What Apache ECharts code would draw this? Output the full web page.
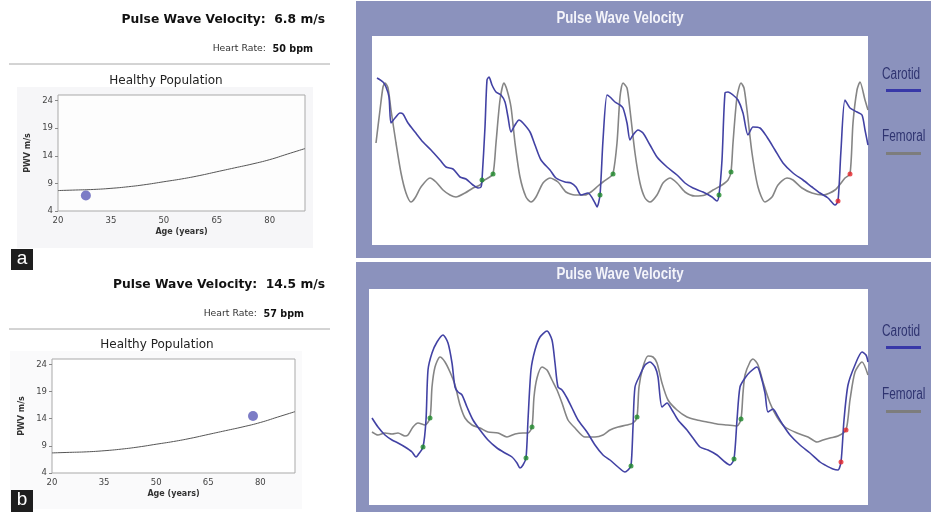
<!DOCTYPE html>
<html>
<head>
<meta charset="utf-8">
<script src="https://cdn.jsdelivr.net/npm/echarts/dist/echarts.min.js"></script>
<style>
  html, body { margin: 0; padding: 0; background: #fff; }
  #chart { width: 931px; height: 512px; }
</style>
</head>
<body>
<div id="chart"></div>
<script>
// healthy population reference curve (age in years, PWV m/s)
const healthyAge = [20, 25, 30, 35, 40, 45, 50, 55, 60, 65, 70, 75, 80, 85, 90];
const healthyPwv = [7.7, 7.8, 7.9, 8.1, 8.4, 8.8, 9.3, 9.8, 10.4, 11.1, 11.8, 12.5, 13.3, 14.3, 15.3];
const ageTicks = [20, 35, 50, 65, 80];
const pwvTicks = [4, 9, 14, 19, 24];

// patients
const patientA = [[27.9, 6.8]];
const patientB = [[77.9, 14.5]];
const pwvA = "6.8", heartRateA = "50";
const pwvB = "14.5", heartRateB = "57";

// panel a waveforms [time, amplitude]
const carotidA = [[5,167],[11,163],[14,158],[17,148],[19,122],[23,127],[28,132],[31,131],[36,122],[43,113],[51,103],[59,95],[68,85],[74,78],[81,76],[88,68],[94,66],[101,60],[106,57],[109,58],[110,65],[113,118],[115,165],[117,168],[120,160],[124,153],[129,150],[133,143],[136,128],[139,113],[143,120],[147,125],[151,122],[158,113],[163,100],[169,85],[178,75],[184,67],[193,63],[199,62],[204,58],[209,50],[216,52],[223,42],[225,38],[228,50],[231,105],[235,150],[238,148],[243,143],[248,140],[251,137],[255,122],[258,105],[261,110],[266,115],[271,112],[278,100],[285,88],[295,78],[305,70],[313,62],[321,57],[331,53],[340,48],[345,44],[347,50],[350,85],[353,152],[356,153],[361,150],[366,145],[371,132],[376,110],[381,118],[388,117],[395,108],[403,95],[411,82],[421,72],[431,65],[440,58],[448,52],[456,47],[463,40],[466,44],[469,95],[473,145],[478,137],[485,133],[490,130],[493,115],[496,100]];
const femoralA = [[4,102],[8,135],[11,158],[13,162],[16,157],[19,135],[24,102],[29,72],[34,52],[39,43],[43,47],[49,58],[58,67],[64,63],[71,55],[78,50],[84,48],[93,52],[101,57],[108,60],[111,64],[116,67],[121,71],[124,102],[128,145],[132,162],[135,155],[139,138],[143,102],[148,68],[154,48],[159,43],[164,48],[171,62],[178,67],[186,63],[194,53],[203,50],[213,50],[219,53],[226,59],[231,63],[238,68],[241,71],[245,102],[248,148],[251,162],[255,157],[258,135],[263,92],[268,62],[273,47],[278,43],[285,50],[291,62],[298,67],[305,62],[313,53],[323,49],[333,50],[341,55],[350,60],[356,65],[359,73],[361,102],[365,148],[369,162],[372,157],[375,135],[380,92],[386,58],[393,43],[400,48],[406,60],[415,67],[421,65],[430,57],[440,52],[451,50],[463,55],[473,67],[478,71],[481,122],[485,155],[488,163],[493,145],[496,135]];
const footA = [[110,65],[121,71],[228,50],[241,71],[347,50],[359,73]];
const footAlast = [[466,44],[478,71]];

// panel b waveforms [time, amplitude]
const carotidB = [[3,87],[9,78],[16,70],[23,65],[29,62],[36,58],[43,53],[47,48],[49,50],[54,58],[57,85],[59,135],[63,152],[68,163],[74,170],[79,162],[83,142],[86,118],[89,113],[93,110],[98,98],[104,85],[111,75],[119,65],[128,57],[136,52],[143,48],[148,42],[151,37],[154,40],[157,47],[159,85],[162,135],[166,155],[171,168],[178,174],[183,165],[186,142],[189,118],[193,115],[198,107],[203,97],[209,85],[218,73],[226,60],[234,50],[241,45],[249,38],[256,33],[259,35],[262,39],[264,78],[266,118],[271,130],[276,140],[281,143],[286,138],[289,128],[293,98],[298,102],[303,95],[309,85],[318,75],[324,67],[331,58],[339,55],[348,50],[356,43],[361,40],[365,46],[368,85],[371,118],[376,127],[381,133],[388,138],[391,132],[396,112],[399,93],[404,96],[408,90],[414,80],[421,70],[431,60],[441,52],[451,43],[456,40],[464,36],[469,35],[472,43],[475,85],[479,120],[486,140],[493,153],[497,150],[499,143]];
const femoralB = [[3,73],[9,70],[16,72],[23,71],[29,72],[36,69],[39,70],[44,78],[49,82],[56,80],[61,87],[63,118],[66,138],[71,148],[76,143],[81,133],[86,120],[91,100],[96,87],[103,80],[111,77],[119,73],[129,72],[138,68],[146,71],[154,72],[159,72],[163,78],[165,108],[168,127],[173,138],[178,135],[183,125],[188,115],[193,102],[199,85],[206,77],[216,68],[226,68],[234,70],[241,75],[249,78],[258,80],[264,82],[268,88],[270,118],[274,138],[279,149],[284,148],[288,142],[293,122],[299,105],[308,95],[318,88],[328,85],[338,83],[348,81],[358,80],[368,79],[372,86],[374,112],[376,130],[381,143],[384,146],[389,140],[394,123],[401,102],[408,88],[416,78],[428,72],[439,68],[448,63],[454,65],[461,67],[469,69],[477,75],[481,105],[486,133],[493,143],[499,130]];
const footB = [[54,58],[61,87],[157,47],[163,78],[262,39],[268,88],[365,46],[372,86]];
const footBlast = [[472,43],[477,75]];

const seriesNames = ["Carotid", "Femoral"];

const LEFT_FONT = "DejaVu Sans, Verdana, sans-serif";
const NARROW = "'Liberation Sans', Arial, sans-serif";
const PANEL = "#8b92bd";
const BLUE = "#4242a4";
const GREY = "#858585";

const chart = echarts.init(document.getElementById("chart"), null, { renderer: "canvas" });

function ageAxis(gridIndex) {
  return {
    type: "value", gridIndex, min: 20, max: 90,
    name: "Age (years)", nameLocation: "middle", nameGap: 17,
    nameTextStyle: { fontFamily: LEFT_FONT, fontSize: 8, fontWeight: "bold", color: "#333" },
    axisLine: { show: false }, splitLine: { show: false },
    axisTick: { show: false },
    axisLabel: { customValues: ageTicks, fontFamily: LEFT_FONT, fontSize: 8.5, color: "#444", margin: 5 }
  };
}
function pwvAxis(gridIndex) {
  return {
    type: "value", gridIndex, min: 4, max: 25,
    name: "PWV m/s", nameLocation: "middle", nameRotate: 90, nameGap: 26,
    nameTextStyle: { fontFamily: LEFT_FONT, fontSize: 8, fontWeight: "bold", color: "#333" },
    axisLine: { show: false }, splitLine: { show: false },
    axisTick: { show: true, customValues: pwvTicks, length: 3, lineStyle: { color: "#888" } },
    axisLabel: { customValues: pwvTicks, fontFamily: LEFT_FONT, fontSize: 8.5, color: "#444", margin: 5 }
  };
}
function waveAxes(gridIndex, xMax, yMax) {
  return [
    { type: "value", gridIndex, min: 0, max: xMax, show: false },
    { type: "value", gridIndex, min: 0, max: yMax, show: false }
  ];
}

function headerGraphics(y0, pwv, hr, hrRight) {
  return [
    { type: "text", x: 325, y: y0, style: { text: "Pulse Wave Velocity:  " + pwv + " m/s", font: "bold 12.3px " + LEFT_FONT, fill: "#111", textAlign: "right", textVerticalAlign: "middle" } },
    { type: "text", x: hrRight, y: y0 + 29, style: { text: "{n|Heart Rate:}  {b|" + hr + " bpm}", textAlign: "right", textVerticalAlign: "middle",
        rich: { n: { font: "9.3px " + LEFT_FONT, fill: "#333" }, b: { font: "bold 9.6px " + LEFT_FONT, fill: "#111" } } } },
    { type: "line", shape: { x1: 9, y1: y0 + 44, x2: 330, y2: y0 + 44 }, style: { stroke: "#a8a8a8", lineWidth: 1 } }
  ];
}

function legendGraphics(yText1, yText2) {
  return [
    { type: "text", x: 882, y: yText1, scaleX: 0.74, style: { text: seriesNames[0], font: "16px " + NARROW, fill: "#2f3470", textVerticalAlign: "middle" } },
    { type: "rect", shape: { x: 886, y: yText1 + 14, width: 35, height: 3 }, style: { fill: "#3838a8" } },
    { type: "text", x: 882, y: yText2, scaleX: 0.74, style: { text: seriesNames[1], font: "16px " + NARROW, fill: "#2f3470", textVerticalAlign: "middle" } },
    { type: "rect", shape: { x: 886, y: yText2 + 15, width: 35, height: 3 }, style: { fill: "#7d7d7d" } }
  ];
}

function panelTitle(y) {
  return { type: "text", x: 620, y, scaleX: 0.83, style: { text: "Pulse Wave Velocity", font: "bold 16px " + NARROW, fill: "#f4f4fa", textAlign: "center", textVerticalAlign: "middle" } };
}

const graphics = [
  // right panels
  { type: "rect", z: -10, shape: { x: 356, y: 1, width: 575, height: 257 }, style: { fill: PANEL } },
  { type: "rect", z: -10, shape: { x: 356, y: 262, width: 575, height: 250 }, style: { fill: PANEL } },
  panelTitle(19),
  panelTitle(275),
  // left plot backgrounds
  { type: "rect", z: -10, shape: { x: 17, y: 87, width: 296, height: 161 }, style: { fill: "#f6f6f8" } },
  { type: "rect", z: -10, shape: { x: 10, y: 351, width: 292, height: 158 }, style: { fill: "#fafafb" } },
  { type: "text", x: 166, y: 81, style: { text: "Healthy Population", font: "12px " + LEFT_FONT, fill: "#222", textAlign: "center", textVerticalAlign: "middle" } },
  { type: "text", x: 157, y: 345, style: { text: "Healthy Population", font: "12px " + LEFT_FONT, fill: "#222", textAlign: "center", textVerticalAlign: "middle" } },
  // panel labels
  { type: "rect", shape: { x: 11, y: 249, width: 22, height: 21 }, style: { fill: "#1e1e1e" } },
  { type: "text", x: 22, y: 259, style: { text: "a", font: "19px " + NARROW, fill: "#fff", textAlign: "center", textVerticalAlign: "middle" } },
  { type: "rect", shape: { x: 11, y: 490, width: 22, height: 22 }, style: { fill: "#1e1e1e" } },
  { type: "text", x: 22, y: 500, style: { text: "b", font: "19px " + NARROW, fill: "#fff", textAlign: "center", textVerticalAlign: "middle" } }
].concat(
  headerGraphics(20, pwvA, heartRateA, 313),
  headerGraphics(285, pwvB, heartRateB, 304),
  legendGraphics(75, 137),
  legendGraphics(332, 395)
);

function healthySeries(i) {
  return {
    type: "line", xAxisIndex: i, yAxisIndex: i, smooth: true, showSymbol: false, silent: true,
    data: healthyAge.map((a, k) => [a, healthyPwv[k]]),
    lineStyle: { color: "#555", width: 1 }
  };
}
function patientSeries(i, data) {
  return { type: "scatter", xAxisIndex: i, yAxisIndex: i, data, symbolSize: 10, itemStyle: { color: "#5b5bb8" }, z: 5 };
}
function waveSeries(i, name, data, color) {
  return { type: "line", name, xAxisIndex: i, yAxisIndex: i, data, smooth: 0.25, showSymbol: false, lineStyle: { color, width: 1.6 }, z: 3 };
}
function footSeries(i, data, color) {
  return { type: "scatter", xAxisIndex: i, yAxisIndex: i, data, symbolSize: 5, itemStyle: { color }, z: 6 };
}

const option = {
  backgroundColor: "#ffffff",
  animation: false,
  graphic: graphics,
  grid: [
    { left: 58, top: 95, width: 247, height: 116, show: true, backgroundColor: "#fdfdfd", borderColor: "#a9a9a9", borderWidth: 1 },
    { left: 52, top: 359, width: 243, height: 114, show: true, backgroundColor: "#ffffff", borderColor: "#a9a9a9", borderWidth: 1 },
    { left: 372, top: 36, width: 496, height: 209, show: true, backgroundColor: "#ffffff", borderWidth: 0 },
    { left: 369, top: 289, width: 499, height: 216, show: true, backgroundColor: "#ffffff", borderWidth: 0 }
  ],
  xAxis: [ageAxis(0), ageAxis(1)].concat([waveAxes(2, 496, 209)[0], waveAxes(3, 499, 216)[0]]),
  yAxis: [pwvAxis(0), pwvAxis(1)].concat([waveAxes(2, 496, 209)[1], waveAxes(3, 499, 216)[1]]),
  series: [
    healthySeries(0), patientSeries(0, patientA),
    healthySeries(1), patientSeries(1, patientB),
    waveSeries(2, "Femoral", femoralA, GREY), waveSeries(2, "Carotid", carotidA, BLUE),
    footSeries(2, footA, "#1f8a2c"), footSeries(2, footAlast, "#e5262b"),
    waveSeries(3, "Femoral", femoralB, GREY), waveSeries(3, "Carotid", carotidB, BLUE),
    footSeries(3, footB, "#1f8a2c"), footSeries(3, footBlast, "#e5262b")
  ]
};

chart.setOption(option);
</script>
</body>
</html>
